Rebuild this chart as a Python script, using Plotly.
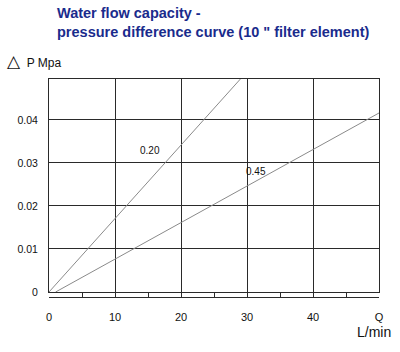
import plotly.graph_objects as go

# Data
flow_020 = [0, 29.0]          # L/min
dp_020 = [0, 0.0495]          # MPa
flow_045 = [1.0, 50.0]
dp_045 = [0, 0.0416]
curve_labels = ["0.20", "0.45"]
label_x = [15.3, 31.4]
label_y = [0.0328, 0.0281]
x_tickvals = [0, 10, 20, 30, 40, 50]
x_ticktext = ["0", "10", "20", "30", "40", "Q"]
x_minor = [5, 15, 25, 35, 45]
y_tickvals = [0, 0.01, 0.02, 0.03, 0.04]
y_ticktext = ["0", "0.01", "0.02", "0.03", "0.04"]

FONT = "Liberation Sans, Arial, sans-serif"
GRID = "#2a2a2a"
LINE = "#8a8a8a"
L, R, T, B = 49, 21, 79, 55
PW, PH = 400 - L - R, 352 - T - B


def px(xp):
    return (xp - L) / PW


def py(yp):
    return (352 - B - yp) / PH


fig = go.Figure()
fig.add_trace(go.Scatter(x=flow_020, y=dp_020, mode="lines",
                         line=dict(color=LINE, width=1), showlegend=False,
                         hoverinfo="skip"))
fig.add_trace(go.Scatter(x=flow_045, y=dp_045, mode="lines",
                         line=dict(color=LINE, width=1), showlegend=False,
                         hoverinfo="skip"))
fig.add_trace(go.Scatter(x=[0], y=[0], xaxis="x2", yaxis="y", mode="markers",
                         marker=dict(opacity=0), showlegend=False,
                         hoverinfo="skip"))

for t, xv, yv in zip(curve_labels, label_x, label_y):
    fig.add_annotation(x=xv, y=yv, xref="x", yref="y", text=t, showarrow=False,
                       font=dict(family=FONT, size=10, color="#111"),
                       xanchor="center", yanchor="middle")

TITLE_C = "#1a2b8c"
fig.add_annotation(x=px(55), y=py(13), xref="paper", yref="paper",
                   text="<b>Water flow capacity -</b>", showarrow=False,
                   xanchor="left", yanchor="middle",
                   font=dict(family=FONT, size=14.5, color=TITLE_C))
fig.add_annotation(x=px(55), y=py(32), xref="paper", yref="paper",
                   text="<b>pressure difference curve (10 \" filter element)</b>",
                   showarrow=False, xanchor="left", yanchor="middle",
                   font=dict(family=FONT, size=14.5, color=TITLE_C))
fig.add_annotation(x=px(5), y=py(61), xref="paper", yref="paper",
                   text="<span style='font-size:17px'>△</span>  P Mpa",
                   showarrow=False, xanchor="left", yanchor="middle",
                   font=dict(family=FONT, size=12, color="#111"))
fig.add_annotation(x=px(393), y=py(332), xref="paper", yref="paper",
                   text="L/min", showarrow=False, xanchor="right",
                   yanchor="middle", font=dict(family=FONT, size=14, color="#111"))

fig.update_layout(
    width=400, height=352,
    margin=dict(l=L, r=R, t=T, b=B),
    paper_bgcolor="white", plot_bgcolor="white",
    xaxis=dict(range=[0, 50], anchor="free", position=0, side="bottom",
               showgrid=True, gridcolor=GRID, gridwidth=1,
               tickvals=x_tickvals, ticktext=x_ticktext,
               ticks="inside", ticklen=4, tickwidth=1, tickcolor=GRID,
               minor=dict(tickvals=x_minor, ticks="inside", ticklen=4,
                          tickwidth=1, tickcolor=GRID, showgrid=False),
               showline=True, linecolor=GRID, linewidth=1,
               ticklabelstandoff=10,
               tickfont=dict(family=FONT, size=11, color="#111"),
               zeroline=False, fixedrange=True),
    xaxis2=dict(range=[0, 50], overlaying="x", anchor="y", side="top",
                showgrid=False, showticklabels=False, ticks="",
                showline=True, linecolor=GRID, linewidth=1, mirror=True,
                zeroline=False, fixedrange=True),
    yaxis=dict(range=[0, 0.0495], domain=[5 / PH, 1], showgrid=True,
               gridcolor=GRID, gridwidth=1, tickvals=y_tickvals,
               ticktext=y_ticktext, ticks="", showline=True, linecolor=GRID,
               linewidth=1, mirror=True, zeroline=False, ticklabelstandoff=8,
               tickfont=dict(family=FONT, size=10.5, color="#111"),
               fixedrange=True),
)

fig.write_html("out.html")
